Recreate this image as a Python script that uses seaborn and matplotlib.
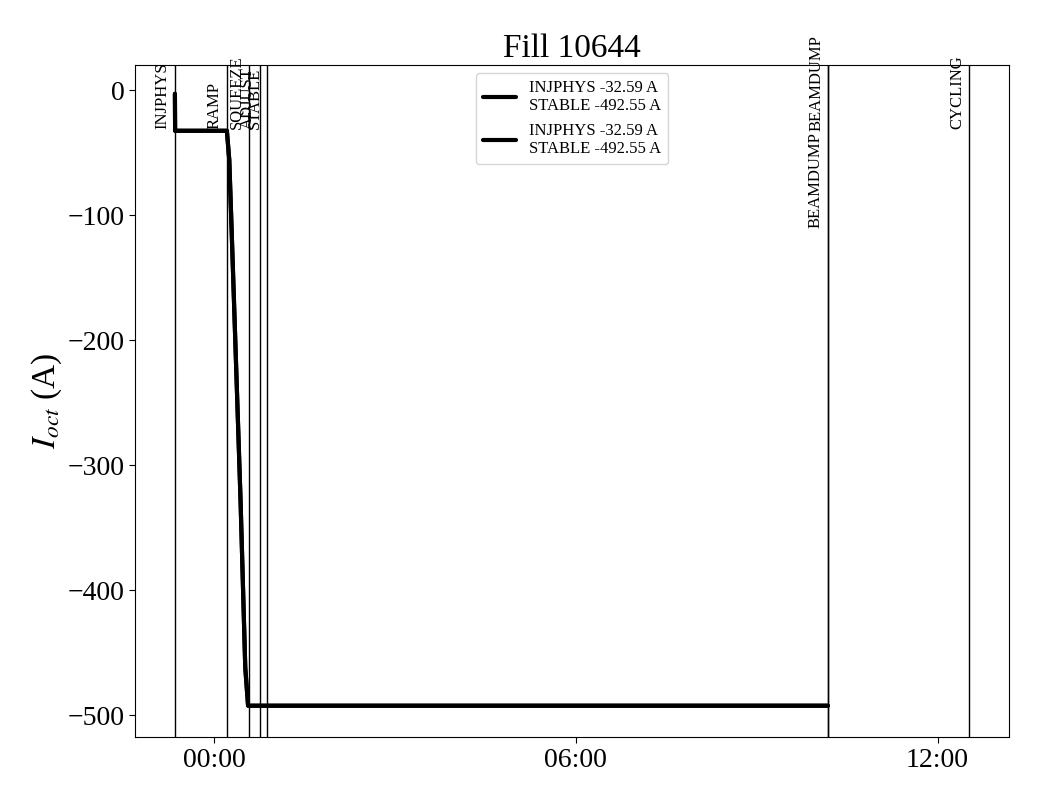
import matplotlib
matplotlib.use("Agg")
import matplotlib.pyplot as plt
import matplotlib.dates as mdates
import numpy as np
import pandas as pd
import seaborn as sns

# ---- data ----
base = pd.Timestamp("2025-05-20 00:00:00")

# octupole current trace: minutes from midnight, current in A
trace_minutes = [-38.8, -38.6, 12.9, 15.3, 17.3, 20.6, 26.5, 31.2, 34.0, 611.0]
trace_current = [-3.0, -32.59, -32.59, -56.0, -104.0, -184.0, -328.0, -462.0, -492.55, -492.55]

legend_label = "INJPHYS -32.59 A\nSTABLE -492.55 A"

# beam mode transitions: minutes from midnight
mode_names = ["INJPHYS", "RAMP", "SQUEEZE", "ADJUST", "STABLE", "BEAMDUMP", "BEAMDUMP", "CYCLING"]
mode_minutes = [-38.8, 12.9, 34.8, 45.7, 53.3, 610.6, 611.2, 751.4]
mode_label_y = [-31.5, -31.5, -31.5, -31.5, -31.5, -110.5, -33.0, -31.5]

title = "Fill 10644"
ylabel = r"$I_{oct}$ (A)"

# ---- plotting ----
sns.set_theme(style="ticks")
plt.rcParams["font.family"] = ["Liberation Serif", "DejaVu Serif"]
plt.rcParams["mathtext.fontset"] = "stix"
plt.rcParams["axes.unicode_minus"] = True
for key in ["text.color", "axes.labelcolor", "xtick.color", "ytick.color", "axes.edgecolor"]:
    plt.rcParams[key] = "black"

df = pd.DataFrame({
    "time": base + pd.to_timedelta(trace_minutes, unit="m"),
    "current": trace_current,
})

fig = plt.figure(figsize=(10.4, 8), dpi=100)
ax = fig.add_axes([0.130, 0.0784, 0.840, 0.8403])

for _ in range(2):
    sns.lineplot(data=df, x="time", y="current", ax=ax, color="black",
                 linewidth=3, label=legend_label, estimator=None, sort=False)

mode_times = base + pd.to_timedelta(mode_minutes, unit="m")
for name, t, ly in zip(mode_names, mode_times, mode_label_y):
    ax.axvline(t, color="black", linewidth=1)
    ax.annotate(name, xy=(mdates.date2num(t), ly), xytext=(-3, 0),
                textcoords="offset points", rotation=90, ha="right", va="bottom",
                fontsize=12, color="black")

ax.set_ylim(-517.8, 20)
ax.xaxis.set_major_locator(mdates.HourLocator(byhour=[0, 6, 12]))
ax.xaxis.set_major_formatter(mdates.DateFormatter("%H:%M"))

ax.set_title(title, fontsize=24, color="black")
ax.set_xlabel("")
ax.set_ylabel(ylabel, fontsize=24, color="black")
ax.yaxis.set_label_coords(-0.081, 0.5)
ax.tick_params(axis="both", labelsize=20, length=4, width=0.8, color="black",
               labelcolor="black")
for s in ax.spines.values():
    s.set_color("black")
    s.set_linewidth(0.8)

leg = ax.legend(loc="upper center", fontsize=12, frameon=True, fancybox=True,
                framealpha=0.8, edgecolor="#cccccc")
for txt in leg.get_texts():
    txt.set_color("black")

fig.savefig("out.png", dpi=100, facecolor="white")
